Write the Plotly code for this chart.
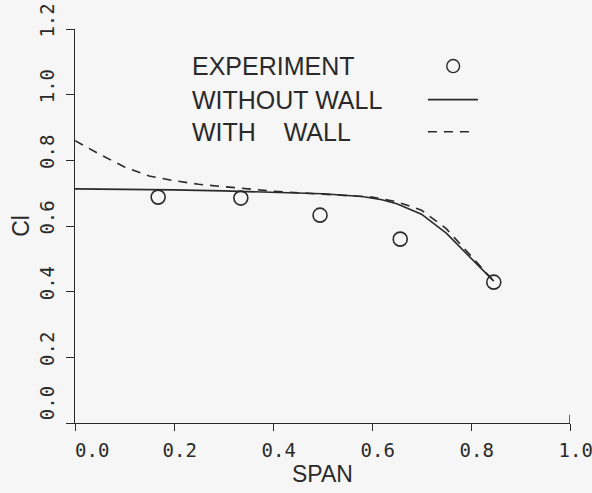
import plotly.graph_objects as go

# experiment points
exp_span = [0.168, 0.335, 0.495, 0.657, 0.846]
exp_cl = [0.688, 0.685, 0.633, 0.560, 0.429]

# computation without wall (solid)
nowall_span = [0.0, 0.1, 0.2, 0.3, 0.4, 0.5, 0.58, 0.62, 0.65, 0.7, 0.75, 0.8, 0.846]
nowall_cl = [0.713, 0.712, 0.710, 0.707, 0.703, 0.698, 0.690, 0.680, 0.668, 0.636, 0.578, 0.502, 0.432]

# computation with wall (dashed)
wall_span = [0.0, 0.05, 0.1, 0.15, 0.2, 0.25, 0.3, 0.4, 0.5, 0.6, 0.65, 0.7, 0.75, 0.8, 0.846]
wall_cl = [0.860, 0.818, 0.780, 0.752, 0.738, 0.727, 0.720, 0.706, 0.697, 0.688, 0.674, 0.648, 0.592, 0.510, 0.432]

x_ticks = [0.0, 0.2, 0.4, 0.6, 0.8, 1.0]
y_ticks = [0.0, 0.2, 0.4, 0.6, 0.8, 1.0, 1.2]

legend_labels = ["EXPERIMENT", "WITHOUT WALL", "WITH    WALL"]

ink = "#2a2a2a"
font = "Liberation Sans"
tick_font = "DejaVu Sans Mono"
nb = "\u00a0"


def tick_text(v):
    # the old plotter labels sit a little off their ticks, the origin one more so
    return (nb * 3 if v == 0 else nb) + f"{v:.1f}"


fig = go.Figure()

fig.add_trace(go.Scatter(
    x=nowall_span, y=nowall_cl, mode="lines",
    line=dict(color=ink, width=1.6),
))
fig.add_trace(go.Scatter(
    x=wall_span, y=wall_cl, mode="lines",
    line=dict(color=ink, width=1.6, dash="9px,7px"),
))
fig.add_trace(go.Scatter(
    x=exp_span, y=exp_cl, mode="markers",
    marker=dict(symbol="circle-open", size=14, color=ink, line=dict(width=1.6)),
))

# legend block (text left, key right)
rows_y = [1.087, 0.985, 0.887]
for label, yy in zip(legend_labels, rows_y):
    fig.add_annotation(
        x=0.232, y=yy, xref="x", yref="y", text=label, showarrow=False,
        xanchor="left", yanchor="middle",
        font=dict(family=font, size=25, color=ink),
    )
fig.add_shape(type="circle", xref="x", yref="y",
              x0=0.764 - 0.013, x1=0.764 + 0.013,
              y0=rows_y[0] - 0.02, y1=rows_y[0] + 0.02,
              line=dict(color=ink, width=1.4))
fig.add_shape(type="line", xref="x", yref="y", x0=0.713, x1=0.814,
              y0=rows_y[1], y1=rows_y[1], line=dict(color=ink, width=1.6))
fig.add_shape(type="line", xref="x", yref="y", x0=0.713, x1=0.81,
              y0=rows_y[2], y1=rows_y[2], line=dict(color=ink, width=1.6, dash="9px,7px"))

# end tick at right of x axis
fig.add_shape(type="line", xref="x", yref="y", x0=1.0, x1=1.0, y0=0.0, y1=0.025,
              line=dict(color=ink, width=1.4))

fig.update_layout(
    width=592, height=493,
    margin=dict(l=75, r=22, t=29, b=70),
    paper_bgcolor="#f6f6f6", plot_bgcolor="#f6f6f6",
    showlegend=False,
)
fig.update_xaxes(
    range=[0, 1.0], tickvals=x_ticks, ticktext=[tick_text(v) for v in x_ticks],
    showgrid=False, zeroline=False, showline=True, linecolor=ink, linewidth=1.4,
    ticks="outside", ticklen=7, tickcolor=ink, tickwidth=1.2, automargin=False,
    ticklabeloverflow="allow",
    tickfont=dict(family=tick_font, size=19, color=ink), ticklabelstandoff=3,
    title=dict(text="SPAN", font=dict(family=font, size=23, color=ink), standoff=4),
)
fig.update_yaxes(
    range=[0, 1.2], tickvals=y_ticks, ticktext=[tick_text(v) for v in y_ticks],
    showgrid=False, zeroline=False, showline=True, linecolor=ink, linewidth=1.4,
    ticks="outside", ticklen=8, tickcolor=ink, tickwidth=1.2, tickangle=-90,
    automargin=False, ticklabelstandoff=4, ticklabeloverflow="allow",
    tickfont=dict(family=tick_font, size=19, color=ink),
    title=dict(text="Cl", font=dict(family=font, size=23, color=ink), standoff=0),
)

# drop the default page margin so the figure fills the window exactly
fig.write_html("out.html", config={"displayModeBar": False},
               post_script="document.body.style.margin='0';")
